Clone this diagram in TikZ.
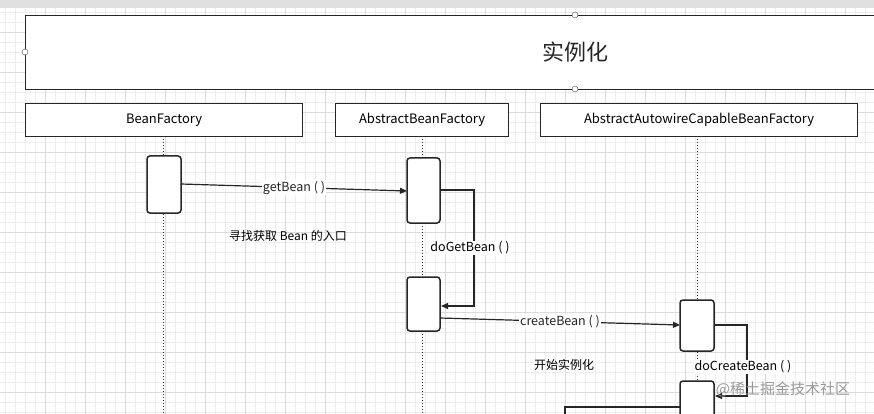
\documentclass[tikz,border=0pt]{standalone}
\usepackage{fontspec}
\setmainfont{Noto Sans CJK SC}
\usetikzlibrary{arrows.meta}
\begin{document}
\begin{tikzpicture}[x=1pt,y=-1pt,
  box/.style={draw=black!85,line width=1.2pt,fill=white,inner sep=0},
  act/.style={draw=black!85,line width=1.5pt,fill=white,rounded corners=3pt},
  life/.style={black!80,line width=1pt,dash pattern=on 1pt off 2pt},
  msg/.style={black!85,line width=1.2pt,-{Triangle[length=7pt,width=6pt]}},
  lbl/.style={fill=white,inner sep=1pt,font=\fontsize{12.5}{14}\selectfont},
  hnd/.style={circle,draw=black!70,fill=white,inner sep=0,minimum size=6pt}]
\useasboundingbox (0,0) rectangle (874,414);
\fill[white] (0,0) rectangle (874,414);
\fill[black!12] (0,0) rectangle (874,8);
\foreach \x in {5,15,...,874} \draw[black!7,line width=0.5pt] (\x,8)--(\x,414);
\foreach \y in {12,22,...,414} \draw[black!7,line width=0.5pt] (0,\y)--(874,\y);
\foreach \x in {45,85,...,874} \draw[black!14,line width=0.5pt] (\x,8)--(\x,414);
\foreach \y in {32,72,...,414} \draw[black!14,line width=0.5pt] (0,\y)--(874,\y);
\node[box,minimum width=852pt,minimum height=74pt,anchor=north west] (main) at (25,15) {};
\node[font=\fontsize{22}{26}\selectfont,text=black!85] (t) at (575,52) {实例化};
\node[hnd] (h1) at (575,15) {};\node[hnd] (h2) at (25,52) {};\node[hnd] (h3) at (575,89) {};
\node[box,minimum width=277pt,minimum height=33pt,anchor=north west,font=\fontsize{13}{15}\selectfont] (bf) at (25,103) {BeanFactory};
\node[box,minimum width=173pt,minimum height=33pt,anchor=north west,font=\fontsize{13}{15}\selectfont] (abf) at (335,103) {AbstractBeanFactory};
\node[box,minimum width=317pt,minimum height=33pt,anchor=north west,font=\fontsize{13}{15}\selectfont] (aacbf) at (540,103) {AbstractAutowireCapableBeanFactory};
\coordinate (e1) at (163,414);\coordinate (e2) at (422,414);\coordinate (e3) at (697,414);
\draw[life] (163,136)--(e1);\draw[life] (422,136)--(e2);\draw[life] (697,136)--(e3);
\draw[act] (147,156) rectangle (181,213);
\draw[act] (407,158) rectangle (440,223);
\draw[act] (407,277) rectangle (440,331);
\draw[act] (680,300) rectangle (714,351);
\draw[act] (680,381) rectangle (714,424);
\draw[msg] (181,184)--(407,191) node[lbl,pos=0.5] {getBean ( )};
\draw[msg] (440,190)--(474,190)--(474,306)--(441,306);
\node[lbl] (dg) at (470,248) {doGetBean ( )};
\draw[msg] (440,318)--(680,325) node[lbl,pos=0.5] {createBean ( )};
\draw[msg] (714,325)--(747,325)--(747,396)--(715,396);
\node[lbl] (dc) at (743,367) {doCreateBean ( )};
\draw[black!85,line width=1.2pt] (565,414)--(565,407)--(680,407);
\node[lbl,fill=none,font=\fontsize{12}{14}\selectfont] (n1) at (288,236) {寻找获取 Bean 的入口};
\node[lbl,fill=none,font=\fontsize{12}{14}\selectfont] (n2) at (564,365) {开始实例化};
\node[font=\fontsize{15}{17}\selectfont,text=black!40] (wm) at (783,389) {@稀土掘金技术社区};
\end{tikzpicture}
\end{document}
